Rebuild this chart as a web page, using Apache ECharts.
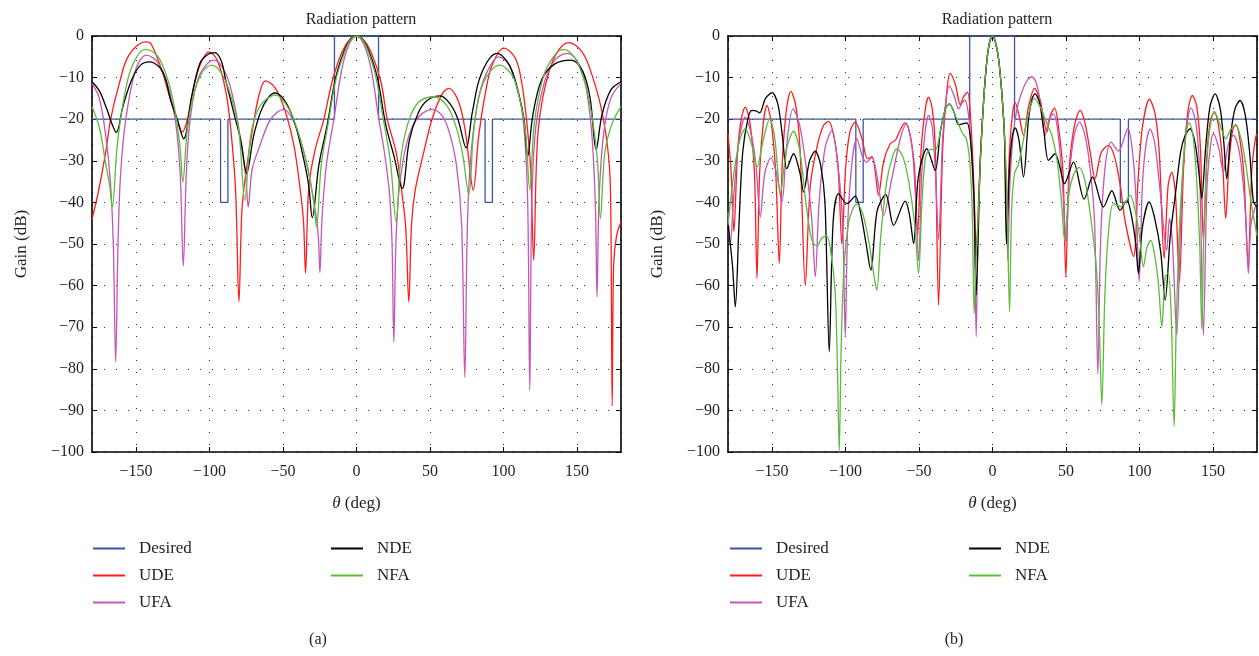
<!DOCTYPE html>
<html><head><meta charset="utf-8">
<script src="https://cdn.jsdelivr.net/npm/echarts@6/dist/echarts.min.js"></script>
<style>html,body{margin:0;padding:0;background:#fff}#c{width:1259px;height:656px}</style>
</head><body><div id="c"></div>
<script>
// ---------- data (theta in degrees, gain in dB) ----------
const seriesNames = ['Desired', 'UDE', 'UFA', 'NDE', 'NFA'];
const legendCol1 = ['Desired', 'UDE', 'UFA'];
const legendCol2 = ['NDE', 'NFA'];
const panelLabels = ['(a)', '(b)'];
const plotTitle = 'Radiation pattern';

const desiredA = [[-180,-20],[-92.5,-20],[-92.5,-40],[-87.5,-40],[-87.5,-20],[-15,-20],[-15,0],[15,0],[15,-20],[87.5,-20],[87.5,-40],[92.5,-40],[92.5,-20],[180,-20]];
const udeA = [[-180,-44],[-175.7,-37.5],[-170.7,-28],[-167.3,-20],[-161.7,-11.8],[-154.9,-4.6],[-143.5,-1.4],[-140,-1.8],[-133.3,-7.4],[-126.5,-15.4],[-122,-20.2],[-118.6,-23.1],[-115.2,-20.2],[-110.7,-12.2],[-106.1,-6.6],[-100.5,-3.8],[-94.8,-5.8],[-89.1,-13],[-85.7,-21.9],[-82.3,-37],[-80,-63.9],[-78,-42],[-75.5,-33.5],[-71,-23],[-66.4,-14.3],[-61.9,-10.8],[-55.1,-12.6],[-48.3,-18.3],[-42.6,-26.3],[-38.1,-37.5],[-36,-45],[-34.7,-57],[-32.4,-36],[-27.9,-27],[-22.2,-20],[-16.6,-11],[-9.8,-3.8],[-4.1,-0.6],[0,0],[4.1,-0.6],[9.8,-3.8],[16.6,-11],[20.9,-20],[27,-28],[31,-38],[33.5,-46],[35.6,-63.9],[37.5,-45],[40,-37],[44.7,-29.5],[51.5,-19.9],[58.3,-13.9],[62.8,-12.6],[69.6,-15.9],[74.1,-23],[77.6,-33.5],[79.4,-37.1],[83.2,-23.9],[87.8,-13.5],[92.3,-7],[100.2,-2.9],[108.2,-5.4],[112.7,-11.8],[116.1,-21.5],[118.5,-32],[120.6,-53.9],[122.3,-32],[124,-21.5],[128.6,-11.8],[135.4,-4.6],[144.4,-1.6],[153.5,-3.8],[160.3,-9.4],[167.1,-18.3],[171.7,-29.5],[173,-40],[174,-88.9],[175,-55],[177,-48],[180,-44.7]];
const ufaA = [[-180,-11.4],[-175,-15],[-170.7,-23.9],[-167.5,-35],[-165.5,-50],[-163.9,-78.3],[-162.3,-50],[-160.5,-33],[-157,-20],[-150,-7.8],[-142.9,-4.6],[-135,-6.5],[-128,-12.5],[-123,-21],[-120,-33],[-117.9,-55.3],[-115.8,-33],[-113,-19.5],[-107,-9.5],[-97,-5.8],[-89,-9],[-83,-16.5],[-78,-27],[-75.3,-34],[-73.7,-41.1],[-71,-32],[-66.4,-27],[-59.6,-20.7],[-54,-18.3],[-49.4,-17.7],[-41.5,-21.5],[-34.7,-29.5],[-28,-42],[-26,-48],[-24.9,-56.9],[-23.5,-44],[-20.5,-31],[-15.4,-20],[-10,-8],[-5,-2],[0,0],[5,-2],[10,-8],[15.2,-20],[19,-28],[22.5,-38],[24.2,-50],[25.4,-73.6],[26.8,-50],[29,-37],[34,-26],[41,-20],[51,-17.7],[58,-19],[63,-23],[68,-31],[71.5,-45],[73.7,-82.1],[75.5,-45],[78,-28],[83,-15],[89,-8.5],[96.8,-5],[104,-7],[110,-13],[114,-22],[116.5,-40],[117.9,-85.1],[119.3,-40],[122,-22],[128,-11],[135,-5.8],[143.3,-4.2],[151,-6.5],[156,-12],[160,-23],[162.5,-40],[163.7,-62.7],[165,-40],[168,-24],[173,-15],[180,-11.4]];
const ndeA = [[-180,-11],[-175,-13.2],[-170,-17.5],[-166,-21.5],[-163.5,-23.2],[-159,-17],[-153,-10.5],[-147,-7],[-141,-6.2],[-134,-7.5],[-130,-10.2],[-126.5,-15.4],[-122,-20],[-117.6,-24.7],[-112.2,-14.6],[-106.6,-6.6],[-101,-4.4],[-96.4,-4],[-92,-6],[-89,-10.6],[-83.4,-18.6],[-78.5,-25.5],[-74.8,-33],[-70,-24],[-65,-18],[-60,-14.8],[-55.6,-13.7],[-48,-16],[-41.5,-21.5],[-36,-29.5],[-32.5,-36],[-30.1,-43.7],[-25.6,-31],[-20,-21.5],[-14.3,-10.2],[-8.6,-3.8],[-4.1,-0.8],[0,0],[4.1,-0.8],[8.6,-3.8],[14.3,-10.2],[20,-21.5],[25.6,-29],[31.1,-36.7],[36,-25],[42,-18.5],[48,-15.5],[57.1,-14.4],[64,-16.5],[69,-20],[74.6,-26.9],[79,-18],[85,-9],[95.7,-4.2],[104,-7],[110,-13.5],[114,-20],[116.5,-28.9],[120,-19],[126,-10.5],[135,-6.7],[146,-5.8],[154,-8.5],[159,-15],[163.1,-27.3],[167,-19],[173,-13],[180,-11]];
const nfaA = [[-180,-17],[-175,-22],[-171,-30],[-168,-36],[-166.2,-41.1],[-163,-27],[-159,-16.5],[-153,-7.5],[-143.5,-3.2],[-135,-5],[-128,-11],[-123,-19],[-120,-27],[-118.2,-35.1],[-115,-22],[-110,-13],[-104,-8.2],[-98.2,-7],[-91,-9.5],[-85,-15],[-80,-23],[-76,-39.5],[-72,-24],[-66,-17],[-55.1,-14.2],[-46,-17.5],[-39,-24],[-33,-32],[-29,-40],[-27.2,-45.9],[-24,-31],[-19,-20.5],[-14,-10.5],[-8,-3.8],[-4,-0.9],[0,0],[4,-0.9],[8,-3.8],[13,-9.5],[18,-19.5],[23,-30],[27,-44.7],[30,-30],[35,-21],[42,-16],[52.6,-14.6],[61,-16.5],[67,-21],[72,-28],[76.4,-38.1],[80,-22],[86,-11.5],[97.3,-7],[106,-9.5],[111,-15],[115,-23],[117.9,-36.8],[121,-21],[127,-10],[134,-5],[141,-3.2],[149,-5.5],[156,-12],[161,-21],[164,-30],[166,-43.9],[169,-28],[174,-21],[180,-17]];

const desiredB = [[-180,-20],[-93,-20],[-93,-40],[-88,-40],[-88,-20],[-15.5,-20],[-15.5,0],[15,0],[15,-20],[87,-20],[87,-40],[92.5,-40],[92.5,-20],[180,-20]];
const udeB = [[-180,-23.5],[-178,-32],[-176,-47],[-173.5,-28],[-171,-20],[-168.3,-17.1],[-165,-21],[-162,-33],[-160.3,-58.3],[-158.5,-33],[-156,-21],[-153.5,-16.7],[-150.5,-21],[-147.5,-33],[-145.1,-54.7],[-143,-30],[-140,-17],[-137.2,-13.3],[-134,-16.5],[-131,-27],[-127.4,-60],[-124,-36],[-119,-26],[-115,-21.5],[-111.6,-20.5],[-108,-24],[-105,-32],[-102.5,-50],[-100,-32],[-97,-23],[-93.4,-20.7],[-89,-24.5],[-85,-29.5],[-82,-29],[-80,-32],[-77.6,-38.3],[-74,-30],[-69.6,-25.9],[-66,-25],[-62,-22],[-59.4,-20.9],[-56,-24],[-53,-32],[-51,-48],[-48.5,-27],[-45.5,-17],[-43.5,-14.7],[-41,-17.5],[-39,-26],[-36.7,-64.7],[-34,-28],[-31,-13],[-28.8,-9],[-25,-12],[-22,-16.5],[-19.5,-14.5],[-17,-13.5],[-14.5,-22],[-12.5,-38],[-11,-52],[-9.5,-40],[-8.4,-30],[-6.1,-15.5],[-3.9,-6],[-2,-1.5],[0,0],[2,-1.5],[4.1,-5.4],[6.3,-13.5],[8.2,-24],[9.75,-48],[11.5,-28],[13.5,-19],[15.4,-16],[18,-19],[21.1,-23.9],[24.5,-17],[28.6,-12.6],[32.5,-15.5],[37,-23.1],[39.5,-19],[42.2,-17.3],[45,-22],[48,-33],[49.9,-57.9],[52,-33],[55.5,-22],[59.6,-17.9],[63,-21],[66.5,-28],[69.8,-34.3],[74,-28],[78.9,-26.3],[83,-29],[87,-36],[90,-44],[96,-53],[99,-35],[102,-22],[106.8,-15.2],[110.5,-18.5],[113.5,-28],[116.8,-53.5],[119.5,-36],[122,-32.7],[124.5,-38],[127.2,-59.1],[130,-32],[133,-18],[136,-14.3],[139,-17],[141.5,-27],[143.5,-49],[146,-28],[148.5,-20],[151,-18.4],[154,-22],[156.5,-30],[158.7,-43.9],[161,-30],[163.5,-22.5],[165.5,-21.3],[168,-24],[171,-33],[174,-55],[176.5,-32],[179,-24.5],[180,-23.5]];
const ufaB = [[-180,-42.3],[-178.5,-50.3],[-176,-38],[-172.5,-25],[-168.3,-19.5],[-164,-24],[-161,-31],[-158,-43.5],[-155,-33],[-150.8,-29.3],[-147,-33],[-143.3,-39.9],[-140,-26],[-135.8,-17.5],[-131.5,-21],[-127,-31],[-123,-44],[-120.6,-57.9],[-118,-40],[-114,-27],[-109.3,-22.7],[-105.5,-30],[-102,-45],[-100.2,-72.3],[-98.5,-45],[-95.5,-30],[-92.3,-24.7],[-88.5,-29],[-85.5,-30.3],[-82.1,-29.1],[-78,-35],[-74.1,-43.1],[-68.5,-34.3],[-63,-25],[-58.7,-21.1],[-55,-26],[-52.5,-38],[-50.3,-54],[-48,-32],[-45.5,-22],[-43.5,-19.1],[-41,-22],[-38.8,-33],[-36.7,-49],[-34,-25],[-31.5,-15],[-29.3,-12],[-26,-14.5],[-23.1,-17.5],[-20.5,-16],[-18.6,-15.5],[-16,-20],[-14,-30],[-12.3,-45],[-11.1,-72.3],[-9.8,-45],[-8.4,-31],[-6.1,-16],[-3.9,-6.2],[-2,-1.5],[0,0],[2,-1.5],[4.1,-5.4],[6.3,-13.5],[8.2,-24],[9.3,-36],[10.4,-54],[11.8,-36],[14,-24],[17,-17],[21,-12.5],[24,-10.5],[26.8,-9.8],[30,-11.5],[33,-17],[35.8,-23.9],[38.5,-20],[41.5,-18.7],[44.5,-23],[47.5,-35],[50,-49.5],[52.5,-33],[55.5,-24],[59.2,-20.7],[63,-24],[66.5,-32],[69.5,-45],[71.7,-81.3],[73.5,-50],[76.5,-32],[80.7,-25.5],[85.7,-27.7],[92.1,-22.3],[95,-27],[97.5,-38],[99.8,-59.1],[102,-36],[104.5,-26],[107.3,-22.4],[110.5,-26],[114,-37],[118.6,-51.5],[120.4,-43.9],[122.5,-50],[125.4,-71.9],[128,-45],[131,-25],[135.1,-17.3],[138.5,-21],[141,-33],[143.5,-71.9],[146,-36],[148.5,-26],[150.3,-23.5],[154,-27],[157.1,-32.7],[160.5,-26],[164,-23.9],[167.5,-27],[170.5,-35],[172.5,-45],[174.1,-57.1],[176,-45],[180,-40]];
const ndeB = [[-180,-45],[-177,-55],[-175,-65.1],[-172.5,-45],[-170,-28],[-166.5,-20],[-163.7,-17.9],[-161,-18],[-158.5,-18.5],[-154.5,-15],[-150,-13.6],[-146,-16.5],[-143,-24],[-140,-31.9],[-135.4,-28.3],[-131,-33],[-128.6,-37.5],[-124.5,-30],[-120.6,-27.7],[-117,-31],[-114,-40],[-111.1,-75.9],[-108.5,-45],[-104.8,-37.9],[-99.1,-40.3],[-93.4,-38.5],[-89.5,-43],[-86,-50],[-82.8,-56.3],[-78.5,-42],[-72.6,-38.1],[-67.3,-45.5],[-59.4,-39.7],[-56.5,-43],[-53.7,-49.9],[-50.5,-34],[-44.7,-27.1],[-39,-32.3],[-35.5,-23],[-32,-17.5],[-29.3,-16.3],[-26,-18.5],[-23.1,-21.3],[-17.5,-20.9],[-14.5,-27],[-12.5,-40],[-11.1,-62.3],[-9.5,-45],[-8.4,-31],[-6.1,-16],[-3.9,-6.2],[-2,-1.5],[0,0],[2,-1.5],[4.1,-5.4],[6.3,-13.5],[8.2,-25],[9.5,-50],[11.5,-32],[13.5,-24],[15.4,-22.1],[18,-25],[21.1,-33.9],[24.5,-20],[27,-15],[29,-13.9],[32,-16],[35,-23],[38.1,-29.9],[42.6,-28.3],[45.5,-31],[49,-35.5],[55.1,-30.3],[62.4,-39.2],[68,-33.9],[75.5,-41.1],[81.2,-37.2],[86.8,-41.9],[91.4,-39.5],[95,-44],[97.5,-50],[99.3,-57.1],[102,-46],[106.6,-39.9],[110.5,-44],[114.5,-52],[117.5,-63.5],[121,-48],[124.5,-38],[128,-28],[131,-24],[134.5,-22.3],[138,-26],[140.5,-33],[142.4,-39],[145,-27],[148,-17],[151.5,-13.9],[155,-17.5],[157.5,-26],[159.4,-34.3],[162,-24],[165,-17.5],[168.5,-15.5],[172,-19],[175,-28],[177.6,-39.9],[180,-41]];
const nfaB = [[-180,-45.5],[-176,-33],[-172,-25],[-168.3,-22.3],[-164,-26],[-160.3,-31.5],[-156,-25],[-151.7,-20],[-148,-25],[-144.4,-37.9],[-140,-27],[-135.4,-22.9],[-131,-28],[-127,-40],[-123,-49],[-119.5,-50.5],[-116,-48.5],[-113,-48],[-110,-52],[-107,-62],[-105.5,-80],[-104.3,-100],[-103,-75],[-101,-55],[-98,-45],[-95,-41.5],[-92.3,-40.4],[-89,-42],[-86,-46],[-83,-52],[-80.5,-58],[-78.7,-61.1],[-76,-48],[-72,-35],[-68,-29],[-65.1,-27.1],[-61,-29],[-57,-35],[-53,-45],[-50.3,-57.1],[-48,-40],[-45.5,-29],[-42,-27.2],[-39,-27.5],[-35,-22],[-32,-17.5],[-29.3,-16.3],[-26,-18.5],[-20.9,-23.1],[-17.9,-24.7],[-15.5,-30],[-13.8,-42],[-12.5,-66.7],[-11,-52],[-9.5,-42],[-8.4,-31],[-6.1,-16],[-3.9,-6.2],[-2,-1.5],[0,0],[2,-1.5],[4.1,-5.4],[6.3,-13.5],[8.2,-24],[9.8,-38],[11.6,-66.3],[13,-42],[15,-33],[17.5,-31],[20.5,-26],[24,-19.5],[28.6,-15],[33,-17.5],[37,-21],[40.4,-23.9],[44,-30],[47,-40],[49,-49],[52,-38],[55.5,-33],[59,-31.6],[63,-35],[67,-44],[70.5,-55],[72.5,-68],[74.4,-88.7],[76.5,-62],[79,-47],[82.3,-40.3],[87.5,-41],[93.7,-38.3],[97,-42],[100,-48],[102.7,-55.5],[105,-51],[107.7,-49.1],[110.5,-53],[113,-60],[115.2,-69.9],[117.5,-58],[119.5,-57],[121.5,-66],[123.6,-93.9],[125,-70],[127,-48],[129.5,-32],[131.5,-24],[133.8,-20.8],[136.5,-24],[139,-35],[141,-50],[142.4,-70.3],[144,-45],[147,-25],[151,-18.1],[155,-21.5],[158.7,-24.7],[162,-22.5],[165.5,-21.5],[169,-24.5],[172,-30],[176,-40],[180,-48]];

// ---------- styling ----------
const FONT = '"Liberation Serif", "DejaVu Serif", serif';
const TXT = '#231f20';
const COLORS = { Desired: '#3a55a6', UDE: '#ff1c1c', UFA: '#c456b4', NDE: '#000000', NFA: '#5cbb3c' };
const GRIDS = [
  { left: 92, top: 36, width: 529, height: 416 },
  { left: 728, top: 36, width: 529, height: 416 }
];
const fmt = v => (v < 0 ? '\u2212' + Math.abs(v) : String(v));

function axisCommon() {
  return {
    axisLine: { show: true, onZero: false, lineStyle: { color: '#000', width: 1.6 } },
    axisTick: { show: true, inside: true, length: 5, lineStyle: { color: '#000', width: 1 } }
  };
}
const xAxes = [], yAxes = [];
GRIDS.forEach((g, gi) => {
  xAxes.push(Object.assign(axisCommon(), {
    type: 'value', gridIndex: gi, position: 'bottom', min: -180, max: 180,
    splitNumber: 7, minInterval: 50, maxInterval: 50,
    axisLabel: { show: true, showMinLabel: false, showMaxLabel: false, margin: 12, fontFamily: FONT, fontSize: 16, color: TXT, formatter: fmt },
    splitLine: { show: true, lineStyle: { color: '#333', type: [1, 11], width: 1.1 } },
    name: '{i|\u03b8} (deg)', nameLocation: 'middle', nameGap: 43,
    nameTextStyle: { fontFamily: FONT, fontSize: 17, color: TXT, rich: { i: { fontFamily: FONT, fontSize: 17, fontStyle: 'italic', color: TXT } } }
  }));
  xAxes.push(Object.assign(axisCommon(), {
    type: 'value', gridIndex: gi, position: 'top', min: -180, max: 180,
    splitNumber: 7, minInterval: 50, maxInterval: 50,
    axisLabel: { show: false }, splitLine: { show: false }
  }));
  yAxes.push(Object.assign(axisCommon(), {
    type: 'value', gridIndex: gi, position: 'left', min: -100, max: 0, interval: 10,
    axisLabel: { show: true, margin: 8, fontFamily: FONT, fontSize: 16, color: TXT, formatter: fmt },
    splitLine: { show: true, lineStyle: { color: '#333', type: [1, 11], width: 1.1 } },
    name: 'Gain (dB)', nameLocation: 'middle', nameGap: 62, nameRotate: 90,
    nameTextStyle: { fontFamily: FONT, fontSize: 17, color: TXT }
  }));
  yAxes.push(Object.assign(axisCommon(), {
    type: 'value', gridIndex: gi, position: 'right', min: -100, max: 0, interval: 10,
    axisLabel: { show: false }, splitLine: { show: false }
  }));
});

function mkSeries(name, data, gi, smooth) {
  return {
    type: 'line', name, data, xAxisIndex: gi * 2, yAxisIndex: gi * 2,
    symbol: 'none', smooth: smooth, clip: true, animation: false,
    lineStyle: { color: COLORS[name], width: 1.3 }, itemStyle: { color: COLORS[name] },
    emphasis: { disabled: true }
  };
}
const panels = [
  { Desired: desiredA, UDE: udeA, UFA: ufaA, NDE: ndeA, NFA: nfaA, smooth: 0.35 },
  { Desired: desiredB, UDE: udeB, UFA: ufaB, NDE: ndeB, NFA: nfaB, smooth: 0.3 }
];
const series = [];
panels.forEach((p, gi) => {
  seriesNames.forEach(n => series.push(mkSeries(n, p[n], gi, n === 'Desired' ? false : p.smooth)));
});

function mkLegend(names, left) {
  return {
    data: names, left: left, top: 540, orient: 'vertical', itemGap: 10, padding: 0,
    itemWidth: 32, itemHeight: 2, icon: 'rect', selectedMode: false,
    textStyle: { fontFamily: FONT, fontSize: 17, color: TXT, lineHeight: 16, padding: [0, 0, 0, 9] }
  };
}
const titleStyle = { fontFamily: FONT, fontSize: 16, fontWeight: 'normal', color: TXT };
const option = {
  animation: false,
  backgroundColor: '#fff',
  title: [
    { text: plotTitle, left: 356, top: 7, textAlign: 'center', textStyle: titleStyle },
    { text: plotTitle, left: 992, top: 7, textAlign: 'center', textStyle: titleStyle },
    { text: panelLabels[0], left: 313, top: 627, textAlign: 'center', textStyle: titleStyle },
    { text: panelLabels[1], left: 949, top: 627, textAlign: 'center', textStyle: titleStyle }
  ],
  legend: [mkLegend(legendCol1, 93), mkLegend(legendCol2, 331), mkLegend(legendCol1, 730), mkLegend(legendCol2, 969)],
  grid: GRIDS,
  xAxis: xAxes,
  yAxis: yAxes,
  series: series
};
const chart = echarts.init(document.getElementById('c'), null, { renderer: 'canvas' });
chart.setOption(option);
</script>
</body></html>
